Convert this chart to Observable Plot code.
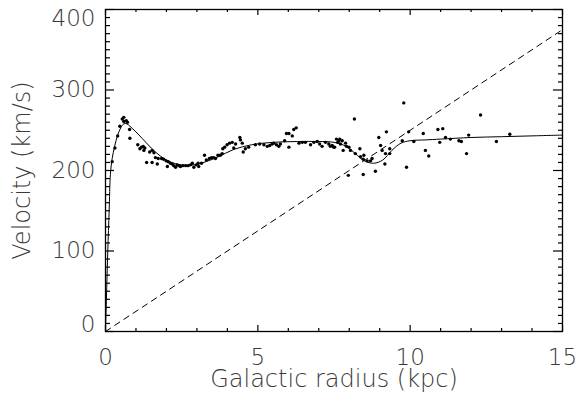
<!DOCTYPE html>
<html>
<head>
<meta charset="utf-8">
<script src="https://cdn.jsdelivr.net/npm/d3@7"></script>
<script src="https://cdn.jsdelivr.net/npm/@observablehq/plot@0.6"></script>
<style>
  html, body { margin: 0; padding: 0; background: #fff; }
  #chart svg { display: block; }
</style>
</head>
<body>
<div id="chart"></div>
<script>
// Model rotation curve (solid line)
const curveR = [0, 0.03, 0.075, 0.12, 0.16, 0.22, 0.3, 0.4, 0.5, 0.6, 0.7, 0.8, 1.0, 1.2, 1.5, 1.8, 2.1, 2.5, 2.9, 3.3, 3.7, 4.2, 4.8, 5.5, 6.3, 7.0, 7.5, 7.9, 8.2, 8.5, 8.8, 9.1, 9.4, 9.7, 10.0, 10.5, 11, 12, 13, 14, 15];
const curveV = [0, 40, 100, 150, 195, 215, 230, 244, 253, 258, 258, 255, 248, 240, 228, 218, 211, 207, 207, 211, 217, 226, 232, 235, 236, 236, 235, 230, 221, 212, 209, 213, 225, 234, 237, 238, 239, 241, 242, 243, 244];

// Observed points
const obsR = [0.22, 0.31, 0.40, 0.47, 0.55, 0.60, 0.60, 0.68, 0.72, 0.79, 0.80, 1.06, 1.13, 1.18, 1.24, 1.29, 1.26, 1.35, 1.45, 1.53, 1.59, 1.53, 1.64, 1.70, 1.73, 1.84, 1.91, 1.99, 2.06, 2.03, 2.13, 2.19, 2.24, 2.30, 2.35, 2.41, 2.46, 2.54, 2.63, 2.71, 2.79, 2.85, 2.90, 2.98, 3.04, 3.06, 3.15, 3.25, 3.31, 3.41, 3.48, 3.55, 3.61, 3.69, 3.77, 3.83, 3.85, 3.91, 3.99, 4.07, 4.16, 4.21,
  4.27, 4.41, 4.43, 4.49, 4.52, 4.59, 4.70, 4.92, 5.06, 5.20, 5.31, 5.39, 5.47, 5.52, 5.61, 5.69, 5.74, 5.88, 5.94, 6.02, 6.13, 6.18, 6.26, 6.02, 6.35, 6.46, 6.56, 6.73, 6.84, 6.95, 7.03, 7.11, 7.22, 7.33, 7.38, 7.49, 7.58, 7.66, 7.71, 7.80, 7.88, 7.99,
  7.44, 7.52, 7.62, 7.69, 7.77, 7.91, 8.04, 8.17, 8.20, 8.35, 8.37, 8.48, 8.46, 7.97, 8.46, 8.59, 8.70, 8.86, 8.75, 8.97, 9.03, 9.08, 9.17, 9.19, 9.22, 9.33, 9.33, 9.79, 9.74, 9.88, 9.95, 10.12, 10.43, 10.50, 10.61, 10.91, 10.97,
  11.07, 11.16, 11.32, 11.60, 11.68, 11.85, 11.92, 12.31, 12.83, 13.27];
const obsV = [211, 228, 243, 255, 264, 266, 261, 262, 260, 251, 240, 232, 227, 229, 230, 228, 225, 210, 223, 225, 222, 210, 216, 208, 215, 215, 214, 212, 211, 205, 209, 208, 206, 204, 207, 206, 205, 206, 206, 206, 207, 209, 204, 207, 209, 205, 209, 219, 213, 215, 216, 216, 215, 219, 219, 221, 227, 229, 232, 234, 235, 228,
  233, 241, 238, 234, 223, 227, 229, 232, 233, 232, 230, 231, 233, 234, 232, 230, 233, 237, 246, 246, 243, 251, 253, 229, 234, 235, 235, 232, 235, 236, 233, 230, 235, 233, 230, 229, 239, 237, 233, 225, 234, 229,
  231, 229, 235, 239, 237, 230, 225, 264, 221, 227, 217, 219, 214, 194, 195, 212, 212, 199, 215, 241, 231, 225, 208, 221, 248, 227, 221, 284, 237, 204, 248, 236, 246, 225, 218, 251, 235,
  252, 241, 239, 237, 236, 221, 244, 269, 236, 245];

// Dashed line
const lineR = [0, 15];
const lineV = [0, 375];

// Ticks
const xMajor = [0, 5, 10, 15];
const xMinor = d3.range(0, 16, 1).filter(d => d % 5 !== 0);
const yMajor = [0, 100, 200, 300, 400];
const yMinor = d3.range(0, 401, 10).filter(d => d % 100 !== 0);
const xTitle = "Galactic radius (kpc)";
const yTitle = "Velocity (km/s)";

const curve = curveR.map((r, i) => ({r, v: curveV[i]}));
const obs = obsR.map((r, i) => ({r, v: obsV[i]}));
const line = lineR.map((r, i) => ({r, v: lineV[i]}));

const W = 577, H = 404, mL = 105, mR = 15, mT = 9, mB = 73;
const frameW = W - mL - mR;
const frameH = H - mT - mB;

const font = "'DejaVu Sans', sans-serif";
const txt = "#3a3a3a";
const fw = 200;
const fs = 23;

// inward tick marks drawn as rules spanning only `len` pixels from a frame edge
const tickX = (values, side, len) => Plot.ruleX(values, {x: d => d, stroke: "#000", strokeWidth: 1.2,
  insetTop: side === "bottom" ? frameH - len : 0, insetBottom: side === "top" ? frameH - len : 0});
const tickY = (values, side, len) => Plot.ruleY(values, {y: d => d, stroke: "#000", strokeWidth: 1.2,
  insetRight: side === "left" ? frameW - len : 0, insetLeft: side === "right" ? frameW - len : 0});

const chart = Plot.plot({
  width: W,
  height: H,
  marginLeft: mL,
  marginRight: mR,
  marginTop: mT,
  marginBottom: mB,
  x: {domain: [0, 15], axis: null},
  y: {domain: [0, 400], axis: null},
  style: {fontFamily: font, background: "#fff", color: "#000"},
  marks: [
    tickX(xMajor, "bottom", 6),
    tickX(xMinor, "bottom", 3),
    tickX(xMajor, "top", 6),
    tickX(xMinor, "top", 3),
    tickY(yMajor, "left", 9),
    tickY(yMinor, "left", 5),
    tickY(yMajor, "right", 9),
    tickY(yMinor, "right", 4),
    // tick labels
    Plot.axisX(xMajor, {anchor: "bottom", tickSize: 0, tickPadding: 17, fontSize: fs, fill: txt, fontWeight: fw, label: null}),
    Plot.axisY([100, 200, 300], {anchor: "left", tickSize: 0, tickPadding: 10, fontSize: fs, fill: txt, fontWeight: fw, label: null}),
    Plot.axisY([0], {anchor: "left", tickSize: 0, tickPadding: 10, fontSize: fs, fill: txt, fontWeight: fw, label: null, dy: -7}),
    Plot.axisY([400], {anchor: "left", tickSize: 0, tickPadding: 10, fontSize: fs, fill: txt, fontWeight: fw, label: null, dy: 9}),
    // axis titles
    Plot.text([xTitle], {frameAnchor: "bottom", lineAnchor: "middle", textAnchor: "middle", dy: 48, fontSize: 24, fill: txt, fontWeight: fw, text: d => d}),
    Plot.text([yTitle], {frameAnchor: "left", lineAnchor: "middle", textAnchor: "middle", dx: -83, rotate: -90, fontSize: 24, fill: txt, fontWeight: fw, text: d => d}),
    // data
    Plot.line(line, {x: "r", y: "v", stroke: "#000", strokeWidth: 1, strokeDasharray: "6,5"}),
    Plot.line(curve, {x: "r", y: "v", stroke: "#000", strokeWidth: 1, curve: "catmull-rom"}),
    Plot.dot(obs, {x: "r", y: "v", r: 1.7, fill: "#000", stroke: "none"}),
    Plot.frame({stroke: "#000", strokeWidth: 1.3})
  ]
});
document.getElementById("chart").append(chart);
</script>
</body>
</html>
